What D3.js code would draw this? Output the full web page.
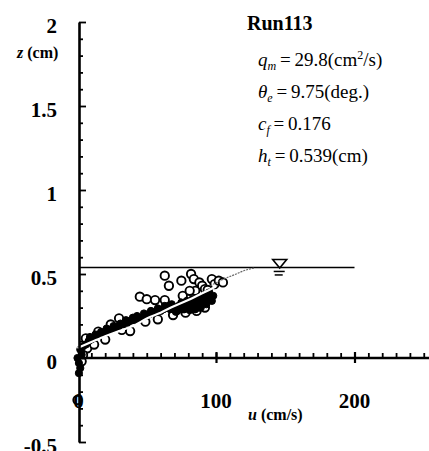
<!DOCTYPE html>
<html>
<head>
<meta charset="utf-8">
<script src="https://cdn.jsdelivr.net/npm/d3@7"></script>
<style>
  body { margin: 0; background: #fff; }
</style>
</head>
<body>
<div id="chart"></div>
<script>
// axis ticks and labels
var yTicks = [-0.5, 0, 0.5, 1, 1.5, 2];
var yTickLabels = ["-0.5", "0", "0.5", "1", "1.5", "2"];
var xTicks = [0, 100, 200];
var xTickLabels = ["0", "100", "200"];

// measured velocities (open circles)
var openU = [63, 66, 75, 82, 84, 88, 90, 92, 97, 99, 85,
             45, 50, 56, 63, 76, 81, 94, 69, 49, 32, 30, 15, 6, 7, 4,
             20, 38, 58, 78, 86, 92, 102, 105, 24, 12, 3, 0];
var openZ = [0.49, 0.43, 0.46, 0.50, 0.47, 0.45, 0.43, 0.41, 0.47, 0.44, 0.40,
             0.365, 0.35, 0.345, 0.345, 0.37, 0.40, 0.405, 0.256, 0.216, 0.167, 0.236, 0.157, 0.117, 0.058, 0.018,
             0.11, 0.16, 0.23, 0.27, 0.28, 0.30, 0.46, 0.45, 0.20, 0.08, -0.02, -0.25];

// dense cloud of measurements (dark band)
var denseU = [0, 1, 2, 1, 3, 2, 4, 6, 8, 10, 12, 14, 16, 19, 22, 25, 27, 30, 33, 36, 38, 41, 44, 46, 49,
              52, 55, 57, 60, 62, 64, 66, 67, 70, 72, 74, 76, 78, 80, 82, 84, 86, 88, 90, 92, 94, 96, 98,
              75, 79, 83, 87, 91, 73, 85, 89, 95,
              9, 13, 17, 21, 26, 31, 35, 40, 43, 48, 53, 58, 63, 68, 71, 77, 81, 88, 93, 97];
var denseZ = [0.0, -0.03, -0.06, -0.09, 0.02, 0.05, 0.07, 0.08, 0.10, 0.11, 0.12, 0.13, 0.14, 0.15, 0.16, 0.17, 0.18, 0.19, 0.20, 0.21, 0.22, 0.225, 0.23, 0.24, 0.25,
              0.26, 0.27, 0.275, 0.28, 0.29, 0.30, 0.31, 0.29, 0.30, 0.28, 0.30, 0.29, 0.31, 0.30, 0.32, 0.31, 0.33, 0.32, 0.34, 0.33, 0.35, 0.36, 0.37,
              0.33, 0.34, 0.35, 0.36, 0.37, 0.31, 0.29, 0.30, 0.39,
              0.125, 0.14, 0.155, 0.175, 0.19, 0.205, 0.225, 0.24, 0.25, 0.265, 0.28, 0.295, 0.31, 0.32, 0.275, 0.29, 0.285, 0.30, 0.32, 0.34];

// computed profile (white line) and its upper part (thin line)
var profileU = [0, 10, 20, 30, 40, 50, 60, 70, 80, 90, 100];
var profileZ = [0.06, 0.095, 0.13, 0.16, 0.19, 0.235, 0.27, 0.31, 0.345, 0.385, 0.425];
var upperU = [96, 104, 113, 123, 128];
var upperZ = [0.43, 0.464, 0.495, 0.527, 0.536];

var surfaceZ = 0.539;
var surfaceEndU = 200;
var surfaceMarkU = 146;

var width = 429, height = 451;
var serif = "'Liberation Serif', 'Times New Roman', 'DejaVu Serif', serif";

var svg = d3.select("#chart").append("svg")
  .attr("width", width)
  .attr("height", height)
  .attr("font-family", serif)
  .style("display", "block");

var x = d3.scaleLinear().domain([0, 250]).range([77.5, 423.75]);
var y = d3.scaleLinear().domain([-0.5, 2]).range([442, 22]);

var x0 = x(0) + 1.5;

// water surface
svg.append("line")
  .attr("x1", x0).attr("x2", x(surfaceEndU))
  .attr("y1", y(surfaceZ)).attr("y2", y(surfaceZ))
  .style("stroke", "#000").style("stroke-width", 1.6);

var sx = x(surfaceMarkU), sy = y(surfaceZ);
svg.append("path")
  .attr("d", "M" + (sx - 7) + "," + (sy - 8) + "L" + (sx + 7) + "," + (sy - 8) + "L" + sx + "," + (sy + 0.5) + "Z")
  .style("fill", "none").style("stroke", "#000").style("stroke-width", 1.6);
svg.append("line")
  .attr("x1", sx - 6).attr("x2", sx + 5).attr("y1", sy + 4).attr("y2", sy + 4)
  .style("stroke", "#000").style("stroke-width", 1.5);
svg.append("line")
  .attr("x1", sx - 5).attr("x2", sx + 3).attr("y1", sy + 7.5).attr("y2", sy + 7.5)
  .style("stroke", "#000").style("stroke-width", 1.5);

// points
var openData = openU.map(function(u, i) { return [u, openZ[i]]; });
var denseData = denseU.map(function(u, i) { return [u, denseZ[i]]; });

svg.append("g").selectAll("circle")
  .data(openData)
  .enter().append("circle")
  .attr("cx", function(d) { return x(d[0]); })
  .attr("cy", function(d) { return y(d[1]); })
  .attr("r", 4.2)
  .style("fill", "#fff")
  .style("stroke", "#000")
  .style("stroke-width", 1.9);

svg.append("g").selectAll("circle")
  .data(denseData)
  .enter().append("circle")
  .attr("cx", function(d) { return x(d[0]); })
  .attr("cy", function(d) { return y(d[1]); })
  .attr("r", 3.6)
  .style("fill", "#000")
  .style("stroke", "#000")
  .style("stroke-width", 1);

var line = d3.line()
  .x(function(d) { return x(d[0]); })
  .y(function(d) { return y(d[1]); })
  .curve(d3.curveMonotoneX);

svg.append("path")
  .datum(profileU.map(function(u, i) { return [u, profileZ[i]]; }))
  .attr("d", line)
  .style("fill", "none")
  .style("stroke", "#fff")
  .style("stroke-width", 2.2);

svg.append("path")
  .datum(upperU.map(function(u, i) { return [u, upperZ[i]]; }))
  .attr("d", line)
  .style("fill", "none")
  .style("stroke", "#666")
  .style("stroke-width", 1.2)
  .style("stroke-dasharray", "2,1");

// x axis at z = 0, minor ticks pointing up
var xMinor = svg.append("g")
  .attr("transform", "translate(0," + y(0) + ")")
  .call(d3.axisTop(x).tickValues(d3.range(10, 251, 10)).tickSize(5).tickSizeOuter(0).tickFormat(""));
xMinor.select(".domain").attr("d", "M" + x0 + ",0H" + width).style("stroke-width", 2.6);
xMinor.selectAll(".tick line").style("stroke-width", 1.8);

var xMajor = svg.append("g")
  .attr("transform", "translate(0," + (y(0) + 5) + ")")
  .call(d3.axisTop(x).tickValues([100, 200]).tickSize(11).tickSizeOuter(0).tickFormat(""));
xMajor.select(".domain").remove();
xMajor.selectAll(".tick line").style("stroke-width", 2.2);

// y axis, ticks pointing right
var yAxis = svg.append("g")
  .attr("transform", "translate(" + x0 + ",0)")
  .call(d3.axisRight(y).tickValues(d3.range(-5, 21).map(function(k) { return k / 10; })).tickSize(4).tickSizeOuter(0).tickFormat(""));
yAxis.select(".domain").style("stroke-width", 2.6);
yAxis.selectAll(".tick line")
  .attr("x2", function(d) { return Math.abs(d * 2 - Math.round(d * 2)) < 1e-6 ? 7 : 4; })
  .style("stroke-width", 1.8);

// tick labels
svg.append("g").selectAll("text")
  .data(yTicks)
  .enter().append("text")
  .attr("font-family", serif)
  .attr("x", 57)
  .attr("y", function(d) { return y(d) + 11; })
  .attr("text-anchor", "end")
  .style("font-size", "21px")
  .style("font-weight", "bold")
  .text(function(d, i) { return yTickLabels[i]; });

svg.append("g").selectAll("text")
  .data(xTicks)
  .enter().append("text")
  .attr("font-family", serif)
  .attr("x", function(d) { return x(d) + (d === 0 ? 1 : 0); })
  .attr("y", 408)
  .attr("text-anchor", "middle")
  .style("font-size", "21px")
  .style("font-weight", "bold")
  .text(function(d, i) { return xTickLabels[i]; });

// axis titles
var zt = svg.append("text").attr("x", 17).attr("y", 58).attr("font-family", serif)
  .style("font-size", "16px").style("font-weight", "bold");
zt.append("tspan").style("font-style", "italic").text("z");
zt.append("tspan").text(" (cm)");

var ut = svg.append("text").attr("x", 248).attr("y", 420).attr("font-family", serif)
  .style("font-size", "16px").style("font-weight", "bold");
ut.append("tspan").style("font-style", "italic").text("u");
ut.append("tspan").text(" (cm/s)");

// run parameters
svg.append("text").attr("x", 247).attr("y", 30).attr("font-family", serif)
  .style("font-size", "20px").style("font-weight", "bold")
  .text("Run113");

var params = [
  { sym: "q", sub: "m", val: "29.8(cm", sup: "2", tail: "/s)" },
  { sym: "\u03b8", sub: "e", val: "9.75(deg.)" },
  { sym: "c", sub: "f", val: "0.176" },
  { sym: "h", sub: "t", val: "0.539(cm)" }
];

params.forEach(function(p, i) {
  var t = svg.append("text").attr("x", 258).attr("y", 66 + i * 32).attr("font-family", serif)
    .style("font-size", "19px");
  t.append("tspan").style("font-style", "italic").text(p.sym);
  t.append("tspan").style("font-style", "italic").style("font-size", "12px").attr("dy", 4).text(p.sub);
  t.append("tspan").attr("dy", -4).text("\u2009=\u2009" + p.val);
  if (p.sup) {
    t.append("tspan").style("font-size", "12px").attr("dy", -7).text(p.sup);
    t.append("tspan").attr("dy", 7).text(p.tail);
  }
});
</script>
</body>
</html>
